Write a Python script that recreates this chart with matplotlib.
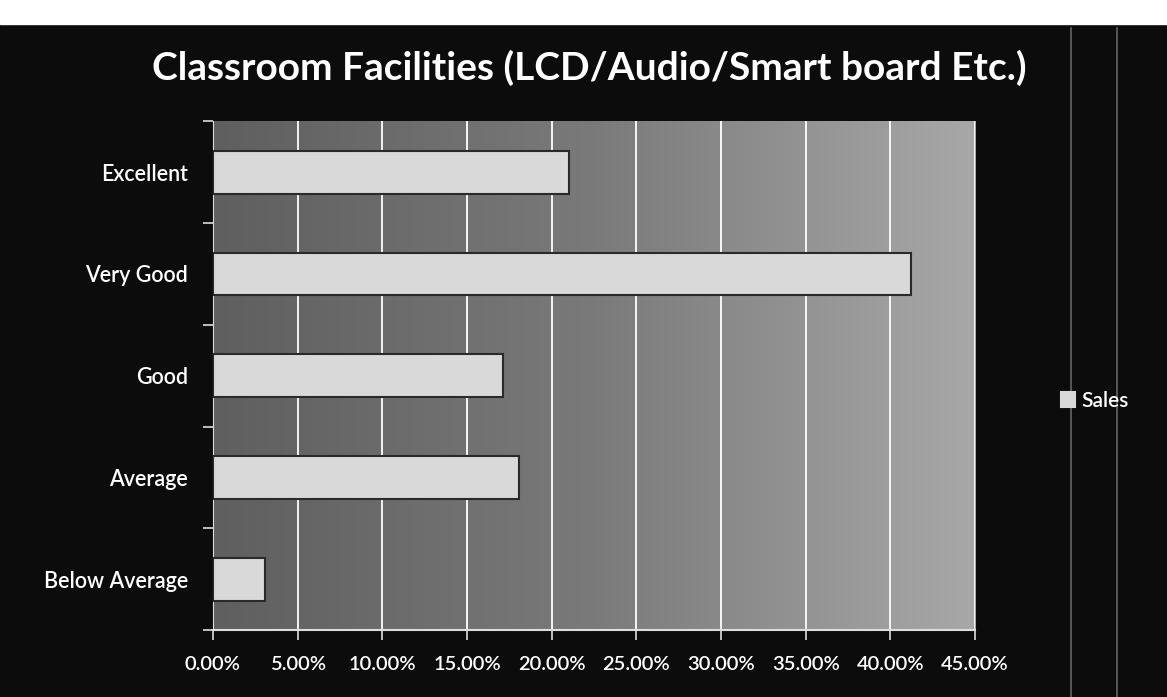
import matplotlib
matplotlib.use("Agg")
import matplotlib.pyplot as plt
import matplotlib.ticker as ticker
import numpy as np
from matplotlib.patches import Rectangle
from matplotlib.lines import Line2D

# Data
categories = ["Excellent", "Very Good", "Good", "Average", "Below Average"]
values = [0.21, 0.412, 0.171, 0.181, 0.031]
series_name = "Sales"
title = "Classroom Facilities (LCD/Audio/Smart board Etc.)"

plt.rcParams["font.family"] = ["Lato", "DejaVu Sans"]

fig = plt.figure(figsize=(11.67, 6.97), dpi=100, facecolor="#0c0c0c")

# white scan strip at top + faint scan lines at right
fig.add_artist(Rectangle((0, 0.965), 1, 0.035, transform=fig.transFigure,
                         color="white", zorder=0))
for xf in (0.918, 0.957):
    fig.add_artist(Line2D([xf, xf], [0, 0.96], transform=fig.transFigure,
                          color="#8a8a8a", lw=1.2, alpha=0.7))

ax = fig.add_axes([0.1825, 0.096, 0.653, 0.730])

# plot-area gradient (dark left -> light right)
grad = np.linspace(0, 1, 256).reshape(1, -1)
ax.imshow(grad, extent=[0, 0.45, -0.5, len(categories) - 0.5], aspect="auto",
          cmap=matplotlib.colors.LinearSegmentedColormap.from_list(
              "bg", ["#5f5f5f", "#7a7a7a", "#a8a8a8"]),
          zorder=0)

y = np.arange(len(categories))
ax.barh(y, values, height=0.42, color="#d9d9d9", edgecolor="#2a2a2a",
        linewidth=1.5, zorder=3, label=series_name)

ax.set_xlim(0, 0.45)
ax.set_ylim(len(categories) - 0.5, -0.5)
ax.xaxis.set_major_locator(ticker.MultipleLocator(0.05))
ax.xaxis.set_major_formatter(ticker.FuncFormatter(lambda v, p: f"{v*100:.2f}%"))
ax.grid(axis="x", color="white", lw=1.3, zorder=1)
ax.set_axisbelow(True)

ax.set_yticks(y)
ax.set_yticklabels(categories, fontweight="semibold")
ax.yaxis.set_minor_locator(ticker.FixedLocator(np.arange(-0.5, len(categories), 1)))
ax.tick_params(axis="y", which="major", length=0, pad=18, labelsize=15.5,
               labelcolor="white")
ax.tick_params(axis="y", which="minor", length=7, color="#dddddd", width=1.2)
ax.tick_params(axis="x", length=7, color="#dddddd", width=1.2, labelsize=14.5,
               labelcolor="white", pad=12)
for lbl in ax.get_xticklabels():
    lbl.set_fontweight("semibold")

for s in ("top", "right"):
    ax.spines[s].set_visible(False)
ax.spines["left"].set_color("#dddddd")
ax.spines["bottom"].set_color("#dddddd")
ax.spines["bottom"].set_linewidth(1.5)

fig.text(0.505, 0.902, title, ha="center", va="center", color="white",
         fontsize=28, fontweight="bold")

leg = fig.legend(loc="center left", bbox_to_anchor=(0.893, 0.425),
                 frameon=False, handlelength=0.7, handleheight=0.7,
                 handletextpad=0.3, labelcolor="white",
                 prop={"size": 15, "weight": "semibold"})
for h in leg.legend_handles:
    h.set_edgecolor("#d9d9d9")

fig.savefig("out.png", dpi=100, facecolor=fig.get_facecolor())
